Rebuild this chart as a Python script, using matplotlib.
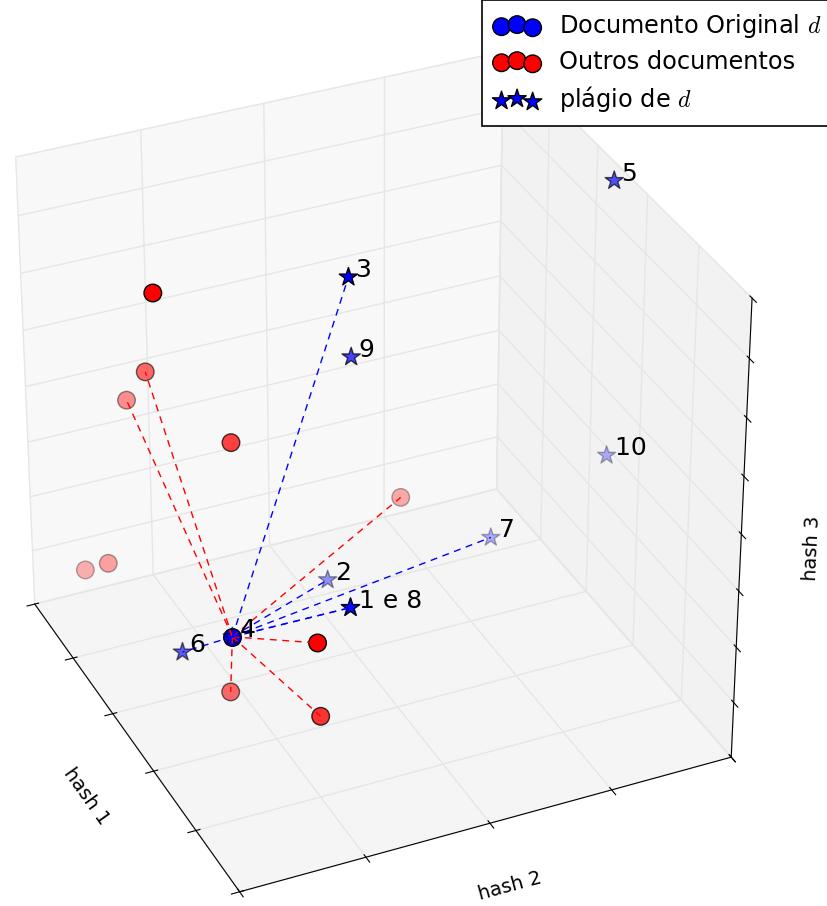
import numpy as np
import matplotlib
matplotlib.use("Agg")
import matplotlib.pyplot as plt

plt.rcParams["mathtext.fontset"] = "cm"
plt.rcParams["grid.color"] = "#e6e6e6"
plt.rcParams["grid.linewidth"] = 1.0

# documento original d
orig_x = [3.10]
orig_y = [0.62]
orig_z = [2.18]

# outros documentos
red_x = [2.52, 0.91, 0.19, 2.29, 0.17, 0.50, 1.19, 4.63, 2.68, 4.07]
red_y = [0.25, 0.69, 0.76, 0.91, 0.38, 0.47, 2.70, 0.76, 0.74, 0.98]
red_z = [7.75, 4.74, 3.54, 4.66, 0.60, 1.00, 1.68, 3.55, 0.68, 1.55]
red_links = [1, 2, 6, 7, 8, 9]

# plágios de d
plag_ids = [1, 2, 3, 4, 5, 6, 7, 8, 9, 10]
plag_x = [3.80, 2.46, 2.98, 3.10, 2.58, 2.89, 2.56, 3.80, 2.54, 2.63]
plag_y = [1.32, 1.62, 1.61, 0.62, 3.90, 0.29, 2.94, 1.32, 1.79, 3.88]
plag_z = [3.01, 2.00, 7.75, 2.18, 7.93, 1.88, 2.14, 3.01, 5.92, 3.19]
plag_links = [1, 2, 3, 6, 7, 8]
plag_labels = {1: "1 e 8", 2: "2", 3: "3", 4: "4", 5: "5", 6: "6",
               7: "7", 9: "9", 10: "10"}

fig = plt.figure(figsize=(8.27, 9.06), dpi=100)
ax = fig.add_axes([-0.11002, -0.02115, 1.0983, 1.00253], projection="3d")
ax.computed_zorder = False

h_orig = ax.scatter(orig_x, orig_y, orig_z, s=160, c="b", marker="o",
                    edgecolors="k", linewidths=1, zorder=1)
h_red = ax.scatter(red_x, red_y, red_z, s=160, c="r", marker="o",
                   edgecolors="k", linewidths=1, zorder=1)
h_plag = ax.scatter(plag_x, plag_y, plag_z, s=190, c="b", marker="*",
                    edgecolors="k", linewidths=1, zorder=1)

dash = (0, (5, 4))
for i in red_links:
    ax.plot([orig_x[0], red_x[i]], [orig_y[0], red_y[i]], [orig_z[0], red_z[i]],
            color="r", lw=1, ls=dash, zorder=2)
for k in plag_links:
    i = plag_ids.index(k)
    ax.plot([orig_x[0], plag_x[i]], [orig_y[0], plag_y[i]], [orig_z[0], plag_z[i]],
            color="b", lw=1, ls=dash, zorder=2)

for k, lab in plag_labels.items():
    i = plag_ids.index(k)
    ax.text(plag_x[i], plag_y[i], plag_z[i], " " + lab, fontsize=18, zorder=3)

ax.set_xlim(0, 5)
ax.set_ylim(0, 4)
ax.set_zlim(0, 8)
ax.set_xticks(range(0, 6))
ax.set_yticks(range(0, 5))
ax.set_zticks(range(0, 9))
ax.set_xticklabels([])
ax.set_yticklabels([])
ax.set_zticklabels([])
ax.set_xlabel("hash 1", fontsize=14, labelpad=12)
ax.set_ylabel("hash 2", fontsize=14, labelpad=8)
ax.set_zlabel("hash 3", fontsize=14, labelpad=11)

ax.view_init(32.5234, -24.4676)
ax.set_box_aspect((1, 0.9849, 0.9834))
ax.set_proj_type("persp", focal_length=1.0568)

leg = ax.legend([h_orig, h_red, h_plag],
                ["Documento Original $d$", "Outros documentos", "plágio de $d$"],
                loc="upper right", bbox_to_anchor=(1.0085, 1.0),
                bbox_transform=fig.transFigure, borderaxespad=0,
                scatterpoints=3, scatteryoffsets=[0.375, 0.5, 0.3125],
                fontsize=17.25, fancybox=False, framealpha=1, edgecolor="k",
                borderpad=0.5, labelspacing=0.42, handlelength=1.9,
                handletextpad=0.82)
leg.get_frame().set_linewidth(1.2)

fig.savefig("out.png", dpi=100)
